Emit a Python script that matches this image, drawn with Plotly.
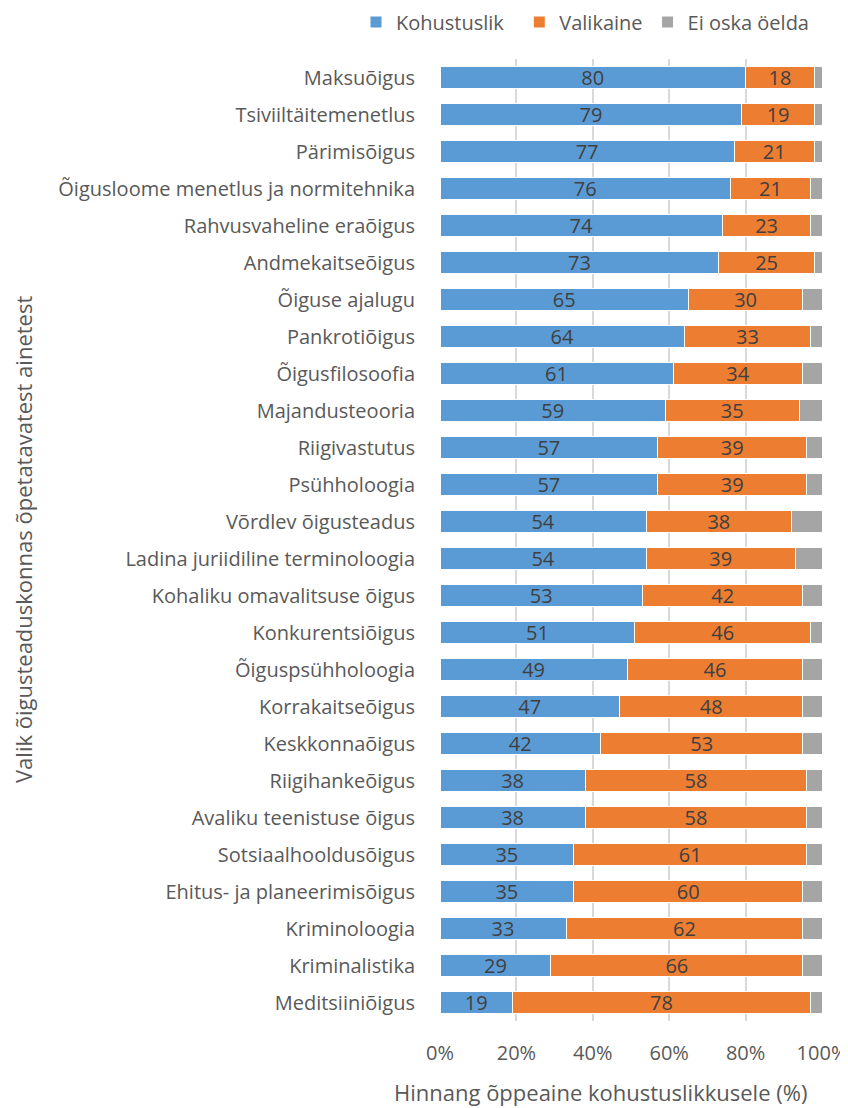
import plotly.graph_objects as go

categories = [
    "Maksuõigus", "Tsiviiltäitemenetlus", "Pärimisõigus",
    "Õigusloome menetlus ja normitehnika", "Rahvusvaheline eraõigus",
    "Andmekaitseõigus", "Õiguse ajalugu", "Pankrotiõigus", "Õigusfilosoofia",
    "Majandusteooria", "Riigivastutus", "Psühholoogia", "Võrdlev õigusteadus",
    "Ladina juriidiline terminoloogia", "Kohaliku omavalitsuse õigus",
    "Konkurentsiõigus", "Õiguspsühholoogia", "Korrakaitseõigus",
    "Keskkonnaõigus", "Riigihankeõigus", "Avaliku teenistuse õigus",
    "Sotsiaalhooldusõigus", "Ehitus- ja planeerimisõigus", "Kriminoloogia",
    "Kriminalistika", "Meditsiiniõigus",
]
kohustuslik = [80, 79, 77, 76, 74, 73, 65, 64, 61, 59, 57, 57, 54, 54, 53,
               51, 49, 47, 42, 38, 38, 35, 35, 33, 29, 19]
valikaine = [18, 19, 21, 21, 23, 25, 30, 33, 34, 35, 39, 39, 38, 39, 42,
             46, 46, 48, 53, 58, 58, 61, 60, 62, 66, 78]
ei_oska = [2, 2, 2, 3, 3, 2, 5, 3, 5, 6, 4, 4, 8, 7, 5,
           3, 5, 5, 5, 4, 4, 4, 5, 5, 5, 3]
x_ticks = [0, 20, 40, 60, 80, 100]
x_tick_labels = ["0%", "20%", "40%", "60%", "80%", "100%"]

FONT = "Open Sans"
OFF = 8  # page body margin
W, H = 848 - OFF, 1108 - OFF
L, R, T, B = 440 - OFF, 822 - OFF, 59 - OFF, 1021 - OFF
PW, PH = R - L, B - T
NB = "\u00a0"

fig = go.Figure()
series = [
    ("Kohustuslik", kohustuslik, "#5B9BD5", True, 2),
    ("Valikaine", valikaine, "#ED7D31", True, 0),
    ("Ei oska öelda", ei_oska, "#A5A5A5", False, 0),
]
for name, vals, color, lab, pad in series:
    fig.add_trace(go.Bar(
        y=categories, x=vals, name=name + NB * pad, orientation="h",
        marker=dict(color=color, line=dict(color="white", width=1)),
        text=[str(v) for v in vals] if lab else None,
        textposition="inside" if lab else "none",
        insidetextanchor="middle", textangle=0,
        textfont=dict(family=FONT, size=20, color="#404040"),
        constraintext="none",
        hovertemplate="%{y}<br>" + name + ": %{x}%<extra></extra>",
    ))

fig.update_layout(
    barmode="stack",
    bargap=0.42,
    width=W, height=H,
    margin=dict(l=L, r=W - R, t=T, b=H - B, autoexpand=False),
    paper_bgcolor="white", plot_bgcolor="white",
    font=dict(family=FONT, size=20, color="#595959"),
    legend=dict(orientation="h", xref="paper", yref="paper",
                x=(356 - OFF - L) / PW, xanchor="left",
                y=(B - (22 - OFF)) / PH, yanchor="middle",
                font=dict(family=FONT, size=20, color="#595959"),
                traceorder="normal", itemwidth=30),
    showlegend=True,
)
fig.update_xaxes(
    range=[0, 100], tickvals=x_ticks, ticktext=x_tick_labels,
    showgrid=True, gridcolor="#D9D9D9", gridwidth=2, zeroline=False,
    showline=False, ticks="", ticklabelstandoff=18,
    tickfont=dict(family=FONT, size=20, color="#595959"), fixedrange=True,
)
fig.update_yaxes(
    autorange="reversed", showgrid=False, showline=False, ticks="",
    ticklabelstandoff=24, tickfont=dict(family=FONT, size=20, color="#595959"),
)
fig.add_annotation(text="Valik õigusteaduskonnas õpetatavatest ainetest",
                   xref="paper", yref="paper", x=(23 - OFF - L) / PW,
                   y=(B - (540 - OFF)) / PH,
                   xanchor="center", yanchor="middle", textangle=-90, borderpad=0,
                   showarrow=False, font=dict(family=FONT, size=22, color="#595959"))
fig.add_annotation(text="Hinnang õppeaine kohustuslikkusele (%)",
                   xref="paper", yref="paper", x=(600 - OFF - L) / PW,
                   y=(B - (1092 - OFF)) / PH,
                   xanchor="center", yanchor="middle", borderpad=0,
                   showarrow=False, font=dict(family=FONT, size=22, color="#595959"))
fig.write_html("out.html")
